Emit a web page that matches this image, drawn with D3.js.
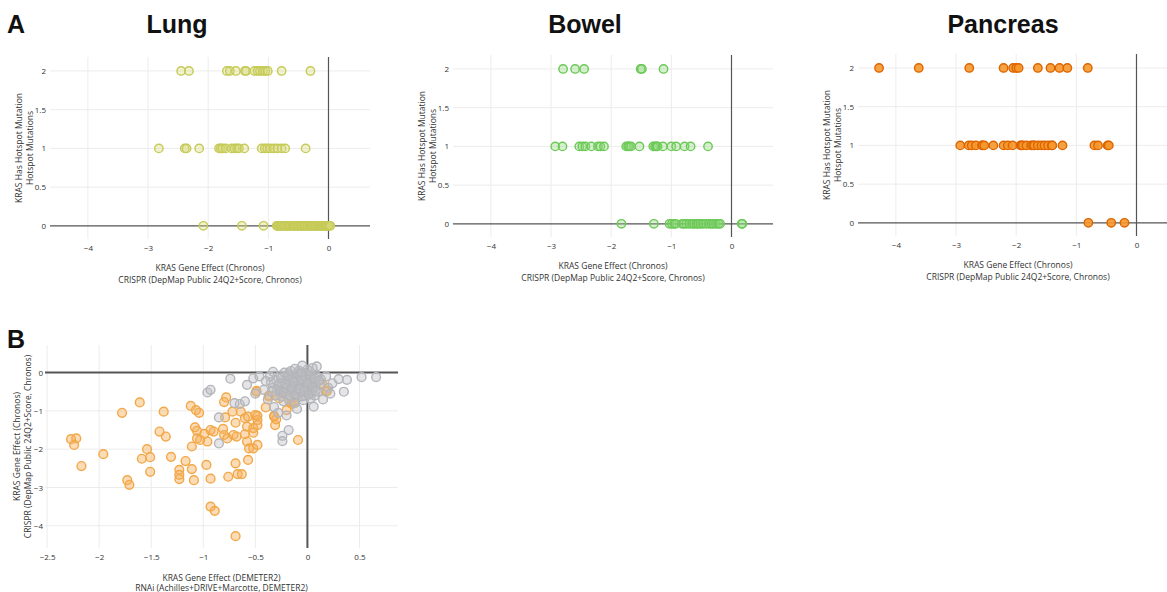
<!DOCTYPE html>
<html>
<head>
<meta charset="utf-8">
<script src="https://cdn.jsdelivr.net/npm/d3@7"></script>
<style>
  body { margin: 0; background: #fff; }
  svg text { font-family: "Open Sans", sans-serif; }
  .panel-title { font-family: "Liberation Sans", Arial, sans-serif; font-weight: bold; font-size: 25px; fill: #111; }
  .tick text { fill: #333; font-size: 8px; }
  .axis-title { fill: #333; font-size: 8.5px; }
</style>
</head>
<body>
<svg id="fig" width="1167" height="592"></svg>
<script>
/*
** Data
*/
// panel A: KRAS gene effect by number of hotspot mutations
var lungMut2 = [-2.45, -2.32, -1.69, -1.64, -1.54, -1.39, -1.37, -1.23, -1.18, -1.14, -1.09, -1.05, -1.01, -0.78, -0.30];
var lungMut1 = [-2.82, -2.39, -2.36, -2.15, -1.82, -1.79, -1.76, -1.71, -1.61, -1.56, -1.52, -1.49, -1.40,
                -1.11, -1.06, -1.02, -0.97, -0.91, -0.85, -0.78, -0.72, -0.38];
var lungMut0 = [-2.08, -1.44, -1.08, -0.86, -0.85, -0.83, -0.80, -0.79, -0.77, -0.74, -0.73, -0.70, -0.69, -0.66,
                -0.64, -0.63, -0.60, -0.58, -0.57, -0.55, -0.52, -0.51, -0.49, -0.47, -0.45, -0.44, -0.41, -0.40,
                -0.38, -0.35, -0.34, -0.31, -0.30, -0.28, -0.26, -0.24, -0.22, -0.21, -0.19, -0.17, -0.15, -0.13,
                -0.12, -0.10, -0.08, -0.06, -0.05, -0.03, -0.01, 0.01, 0.03];

var bowelMut2 = [-2.80, -2.60, -2.45, -1.51, -1.49, -1.13];
var bowelMut1 = [-2.93, -2.81, -2.53, -2.48, -2.43, -2.33, -2.22, -2.18, -2.12, -1.75, -1.72, -1.70, -1.67, -1.53,
                 -1.30, -1.27, -1.25, -1.23, -1.14, -1.00, -0.92, -0.78, -0.68, -0.39];
var bowelMut0 = [-1.83, -1.29, -1.03, -0.99, -0.95, -0.93, -0.82, -0.79, -0.75, -0.70, -0.65, -0.62, -0.58, -0.55,
                 -0.51, -0.47, -0.42, -0.37, -0.33, -0.30, -0.26, -0.22, -0.19, 0.17, 0.18];

var pancMut2 = [-4.28, -3.62, -2.78, -2.21, -2.05, -2.00, -1.96, -1.64, -1.43, -1.28, -1.15, -0.81];
var pancMut1 = [-2.93, -2.79, -2.74, -2.67, -2.57, -2.56, -2.53, -2.38, -2.21, -2.14, -2.06, -1.93, -1.91, -1.89,
                -1.83, -1.75, -1.72, -1.70, -1.64, -1.58, -1.53, -1.47, -1.41, -1.40, -1.23, -0.70, -0.64, -0.48, -0.46];
var pancMut0 = [-0.80, -0.42, -0.20];

var stripXTicks = [-4, -3, -2, -1, 0];
var stripYTicks = [0, 0.5, 1, 1.5, 2];

// panel B: [DEMETER2, Chronos] per cell line
var bHotspot = [[-2.27,-1.74],[-2.22,-1.72],[-2.24,-1.89],[-2.17,-2.44],[-1.96,-2.13],[-1.78,-1.05],[-1.61,-0.78],
  [-1.54,-2.00],[-1.59,-2.25],[-1.51,-2.21],[-1.51,-2.59],[-1.73,-2.81],[-1.71,-2.93],[-1.38,-1.02],[-1.42,-1.54],
  [-1.36,-1.67],[-1.31,-2.20],[-1.23,-2.54],[-1.23,-2.67],[-1.23,-2.78],[-1.17,-2.31],[-1.12,-0.87],[-1.07,-0.98],
  [-1.04,-1.05],[-1.08,-1.43],[-1.06,-1.52],[-1.06,-1.72],[-1.03,-1.76],[-1.11,-1.93],[-1.11,-2.52],[-1.09,-2.81],
  [-0.97,-2.41],[-0.99,-1.60],[-0.96,-1.80],[-0.93,-1.50],[-0.90,-1.54],[-0.93,-2.77],[-0.93,-3.50],[-0.89,-3.61],
  [-0.78,-0.65],[-0.80,-0.77],[-0.72,-1.02],[-0.79,-1.17],[-0.81,-1.47],[-0.80,-1.63],[-0.77,-1.72],[-0.71,-1.63],
  [-0.68,-1.67],[-0.69,-1.31],[-0.64,-1.02],[-0.60,-1.19],[-0.57,-1.15],[-0.58,-1.41],[-0.60,-1.61],[-0.58,-1.80],
  [-0.69,-2.37],[-0.67,-2.65],[-0.63,-2.65],[-0.76,-2.72],[-0.69,-4.27],[-0.56,-1.98],[-0.52,-1.98],[-0.48,-1.89],
  [-0.52,-1.57],[-0.52,-1.45],[-0.48,-1.24],[-0.50,-1.11],[-0.57,-2.28],[-0.49,-0.50],[-0.40,-0.91],[-0.37,-0.63],
  [-0.32,-1.13],[-0.31,-1.37],[-0.30,-1.22],[-0.26,-0.50],[-0.21,-0.50],[-0.27,-0.67],[-0.17,-0.76],[-0.15,-0.82],
  [-0.20,-0.98],[-0.09,-1.76],[0.00,-0.45],[-0.01,-0.32],[0.14,-0.28],[0.18,-0.50],[-0.11,-0.63],[-0.13,-0.80],
  [-0.26,-0.45],[0.00,-0.53],[0.19,-0.47],[-0.32,-1.15],[-0.48,-1.13],[-0.48,-1.37],[-0.49,-0.48],[-0.37,-0.60]];

var bOther = [[-0.30,-0.20],[-0.28,-0.35],[-0.27,-0.50],[-0.25,-0.62],[-0.24,-0.28],[-0.22,-0.42],[-0.21,-0.15],
  [-0.20,-0.55],[-0.19,-0.33],[-0.18,-0.70],[-0.17,-0.22],[-0.16,-0.46],[-0.15,-0.10],[-0.14,-0.38],[-0.13,-0.58],
  [-0.12,-0.27],[-0.11,-0.05],[-0.10,-0.48],[-0.10,-0.18],[-0.09,-0.65],[-0.08,-0.34],[-0.07,-0.12],[-0.06,-0.52],
  [-0.05,-0.25],[-0.04,-0.40],[-0.03,-0.02],[-0.02,-0.60],[-0.01,-0.30],[0.00,-0.15],[0.01,-0.45],[0.02,-0.08],
  [0.03,-0.35],[0.04,-0.55],[0.05,-0.20],[0.06,-0.42],[0.08,-0.28],[0.09,-0.10],[0.10,-0.50],[0.12,-0.32],
  [0.13,-0.18],[-0.26,-0.08],[-0.23,-0.75],[-0.18,-0.02],[-0.12,-0.80],[-0.08,0.05],[-0.04,-0.72],[0.00,0.08],
  [0.03,-0.68],[0.07,-0.60],[-0.33,-0.40],[-0.35,-0.25],[-0.31,-0.60],[-0.16,-0.30],[-0.14,-0.20],[-0.11,-0.36],
  [-0.09,-0.24],[-0.06,-0.33],[-0.03,-0.22],[-0.01,-0.38],[0.02,-0.26],[-0.20,-0.40],[-0.07,-0.44],[0.04,-0.14],
  [-0.13,-0.12],[-0.29,-0.45],[-0.27,-0.28],[-0.25,-0.15],[-0.23,-0.52],[-0.21,-0.30],[-0.19,-0.08],[-0.17,-0.60],
  [-0.15,-0.40],[-0.13,-0.25],[-0.11,-0.55],[-0.09,-0.02],[-0.08,-0.42],[-0.06,-0.18],[-0.05,-0.62],[-0.03,-0.48],
  [-0.02,-0.10],[0.00,-0.28],[0.01,-0.58],[0.03,-0.05],[0.05,-0.38],[0.07,-0.16],[0.08,-0.48],[0.11,-0.22],
  [-0.22,0.00],[-0.16,0.04],[-0.12,0.10],[-0.06,0.00],[0.02,0.04],[-0.36,-0.10],[-0.34,-0.50],
  [-0.74,-0.16],[-0.96,-0.52],[-0.93,-0.45],[-0.65,-0.82],[-0.85,-1.17],[-0.85,-1.85],[-0.24,-1.65],
  [-0.18,-1.50],[-0.24,-1.79],[-0.52,-0.15],[-0.58,-0.32],[-0.46,-0.10],[-0.40,-0.22],[-0.42,-0.45],[-0.50,-0.55],
  [-0.38,-0.70],[-0.32,-0.90],[-0.28,-1.05],[-0.20,-1.12],[-0.10,-0.95],[0.06,-0.89],[0.09,0.16],[0.15,-0.70],
  [0.18,-0.10],[0.20,-0.40],[0.24,-0.28],[0.22,-0.55],[0.30,-0.17],[0.35,-0.50],[0.38,-0.19],[0.52,-0.12],
  [0.66,-0.12],[-0.60,-0.75],[-0.70,-0.80],[-0.33,0.02],[-0.05,0.18],[0.05,0.12]];

var bXTicks = [-2.5, -2, -1.5, -1, -0.5, 0, 0.5];
var bYTicks = [0, -1, -2, -3, -4];

var crisprTitle = ["KRAS Gene Effect (Chronos)", "CRISPR (DepMap Public 24Q2+Score, Chronos)"];
var mutTitle = ["KRAS Has Hotspot Mutation", "Hotspot Mutations"];
var rnaiTitle = ["KRAS Gene Effect (DEMETER2)", "RNAi (Achilles+DRIVE+Marcotte, DEMETER2)"];

var svg = d3.select("#fig");

/*
** Reusable scatter panel
*/
function ScatterPanel(){
    var box, xDomain, yDomain, xTicks, yTicks, series, xTitle, yTitle
      , radius = 4.2
      , zeroWidth = 1.2
      , yPad = 4
    ;

    function my(g) {
        var x = d3.scaleLinear().domain(xDomain).range([box.left, box.left + box.width]);
        var y = d3.scaleLinear().domain(yDomain).range([box.top + box.height, box.top]);
        var inX = function(d) { return d !== 0 && d >= xDomain[0] && d <= xDomain[1]; };

        // grid
        g.append("g").selectAll("line")
            .data(xTicks.filter(inX))
          .enter().append("line")
            .attr("x1", x).attr("x2", x)
            .attr("y1", box.top).attr("y2", box.top + box.height)
            .attr("stroke", "#ececec");
        g.append("g").selectAll("line")
            .data(yTicks.filter(function(d) { return d !== 0; }))
          .enter().append("line")
            .attr("y1", y).attr("y2", y)
            .attr("x1", box.left).attr("x2", box.left + box.width)
            .attr("stroke", "#ececec");

        // zero lines
        g.append("line")
            .attr("x1", box.left).attr("x2", box.left + box.width)
            .attr("y1", y(0)).attr("y2", y(0))
            .attr("stroke", "#555").attr("stroke-width", zeroWidth);
        g.append("line")
            .attr("x1", x(0)).attr("x2", x(0))
            .attr("y1", box.top).attr("y2", box.top + box.height)
            .attr("stroke", "#555").attr("stroke-width", zeroWidth);

        // tick labels
        g.append("g")
            .attr("transform", "translate(0," + (box.top + box.height) + ")")
            .call(d3.axisBottom(x).tickValues(xTicks).tickSize(0).tickPadding(6).tickFormat(d3.format("")))
            .call(function(a) { a.select(".domain").remove(); });
        g.append("g")
            .attr("transform", "translate(" + box.left + ",0)")
            .call(d3.axisLeft(y).tickValues(yTicks).tickSize(0).tickPadding(yPad).tickFormat(d3.format("")))
            .call(function(a) { a.select(".domain").remove(); });

        // points
        series.forEach(function(s) {
            g.append("g").selectAll("circle")
                .data(s.points)
              .enter().append("circle")
                .attr("cx", function(d) { return x(d[0]); })
                .attr("cy", function(d) { return y(d[1]); })
                .attr("r", radius)
                .attr("fill", s.fill)
                .attr("stroke", s.stroke)
                .attr("stroke-width", 1.4);
        });

        // axis titles
        var cx = box.left + box.width / 2;
        g.append("g").selectAll("text")
            .data(xTitle)
          .enter().append("text")
            .attr("class", "axis-title")
            .attr("text-anchor", "middle")
            .attr("x", cx)
            .attr("y", function(d, i) { return box.top + box.height + box.xTitleDy + i * box.lineGap; })
            .text(function(d) { return d; });
        var cy = box.top + box.height / 2;
        g.append("g").selectAll("text")
            .data(yTitle)
          .enter().append("text")
            .attr("class", "axis-title")
            .attr("text-anchor", "middle")
            .attr("transform", function(d, i) {
                return "translate(" + (box.yTitleX + i * 10.5) + "," + cy + ") rotate(-90)";
            })
            .text(function(d) { return d; });
    } // my()

    my.box = function(v) { if (!arguments.length) return box; box = v; return my; };
    my.xDomain = function(v) { if (!arguments.length) return xDomain; xDomain = v; return my; };
    my.yDomain = function(v) { if (!arguments.length) return yDomain; yDomain = v; return my; };
    my.xTicks = function(v) { if (!arguments.length) return xTicks; xTicks = v; return my; };
    my.yTicks = function(v) { if (!arguments.length) return yTicks; yTicks = v; return my; };
    my.series = function(v) { if (!arguments.length) return series; series = v; return my; };
    my.xTitle = function(v) { if (!arguments.length) return xTitle; xTitle = v; return my; };
    my.yTitle = function(v) { if (!arguments.length) return yTitle; yTitle = v; return my; };
    my.radius = function(v) { if (!arguments.length) return radius; radius = v; return my; };
    my.zeroWidth = function(v) { if (!arguments.length) return zeroWidth; zeroWidth = v; return my; };
    my.yPad = function(v) { if (!arguments.length) return yPad; yPad = v; return my; };

    return my;
}

function strip(levels, values) {
    // pair each effect value with its mutation count
    var pts = [];
    levels.forEach(function(lv, i) {
        values[i].forEach(function(v) { pts.push([v, lv]); });
    });
    return pts;
}

/*
** Panel A
*/
var stripPanels = [
    { name: "Lung", left: 50, top: 57, titleX: 177,
      pts: strip([2, 1, 0], [lungMut2, lungMut1, lungMut0]),
      stroke: "#c6ca57", fill: "rgba(214,218,120,0.35)" },
    { name: "Bowel", left: 453, top: 55, titleX: 585,
      pts: strip([2, 1, 0], [bowelMut2, bowelMut1, bowelMut0]),
      stroke: "#6cc957", fill: "rgba(140,215,120,0.35)" },
    { name: "Pancreas", left: 858, top: 54, titleX: 1003,
      pts: strip([2, 1, 0], [pancMut2, pancMut1, pancMut0]),
      stroke: "#dd6500", fill: "rgba(246,152,44,0.9)" }
];

stripPanels.forEach(function(p) {
    var g = svg.append("g");
    ScatterPanel()
        .box({ left: p.left, top: p.top, width: 320, height: 182, xTitleDy: 32, lineGap: 11.5, yTitleX: p.left - 28 })
        .xDomain([-4.63, 0.69])
        .yDomain([-0.17, 2.18])
        .xTicks(stripXTicks)
        .yTicks(stripYTicks)
        .series([{ points: p.pts, stroke: p.stroke, fill: p.fill }])
        .xTitle(crisprTitle)
        .yTitle(mutTitle)(g);
    svg.append("text")
        .attr("class", "panel-title")
        .attr("x", p.titleX).attr("y", 33)
        .attr("text-anchor", "middle")
        .text(p.name);
});

/*
** Panel B
*/
ScatterPanel()
    .box({ left: 45, top: 345, width: 353, height: 203, xTitleDy: 33, lineGap: 10, yTitleX: 20 })
    .xDomain([-2.52, 0.87])
    .yDomain([-4.58, 0.72])
    .xTicks(bXTicks)
    .yTicks(bYTicks)
    .radius(4.4)
    .zeroWidth(2)
    .yPad(2)
    .series([
        { points: bHotspot, stroke: "#f2a848", fill: "rgba(246,172,84,0.42)" },
        { points: bOther, stroke: "#b3b5ba", fill: "rgba(190,190,196,0.4)" }
    ])
    .xTitle(rnaiTitle)
    .yTitle(crisprTitle)(svg.append("g"));

svg.append("text").attr("class", "panel-title").attr("x", 7).attr("y", 33).attr("text-anchor", "start").text("A");
svg.append("text").attr("class", "panel-title").attr("x", 7).attr("y", 348).attr("text-anchor", "start").text("B");
</script>
</body>
</html>
